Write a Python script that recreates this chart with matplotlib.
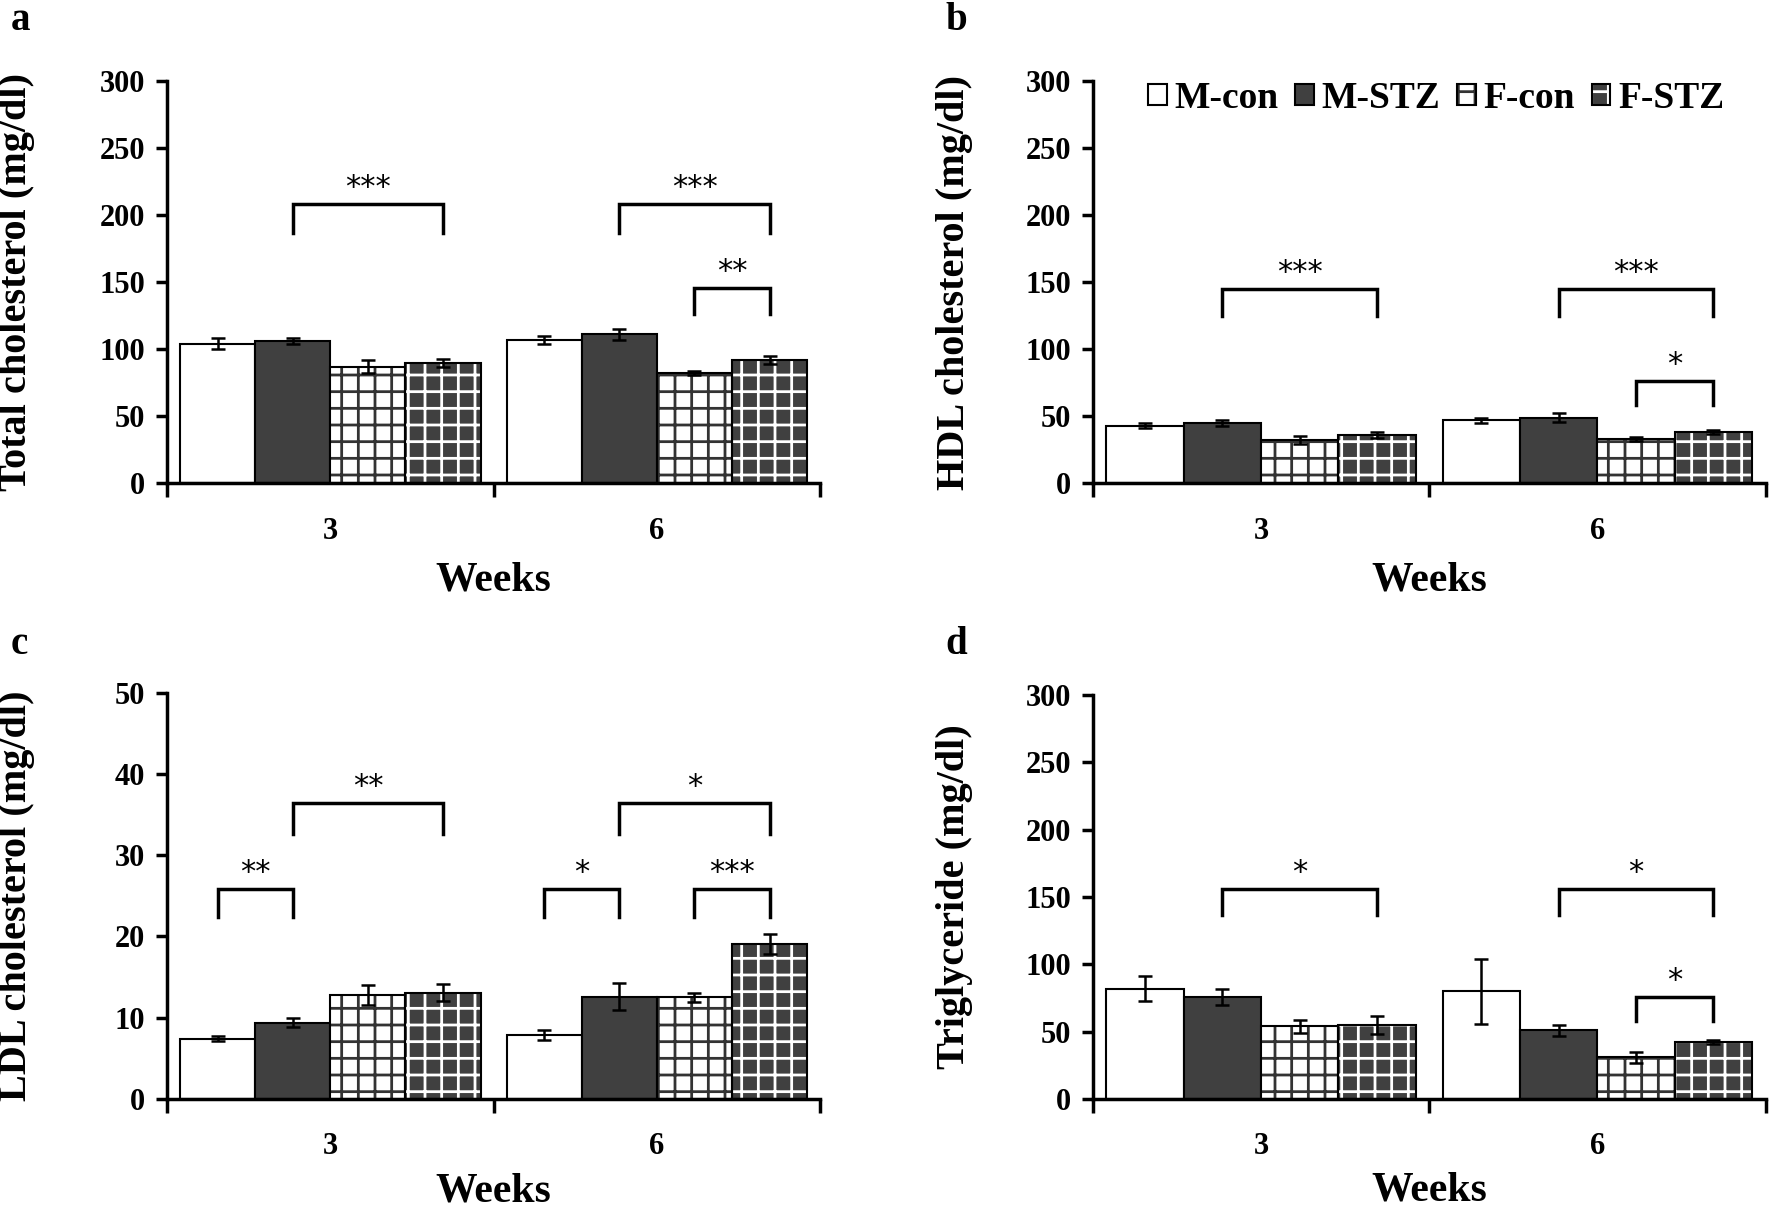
import matplotlib
matplotlib.use("Agg")
import matplotlib.pyplot as plt
from matplotlib.patches import Patch
from matplotlib.legend_handler import HandlerTuple

plt.rcParams["font.family"] = ["Liberation Serif", "DejaVu Serif"]
plt.rcParams["font.weight"] = "bold"
plt.rcParams["hatch.linewidth"] = 2.0

groups = ["M-con", "M-STZ", "F-con", "F-STZ"]
weeks = ["3", "6"]

# means / errors per group, one value per week (3, 6)
tc_mean = [[104, 107], [106, 111], [87, 82], [90, 92]]
tc_err = [[4, 3], [2, 4], [5, 1.5], [3, 3]]
hdl_mean = [[43, 47], [45, 49], [32, 33], [36, 38]]
hdl_err = [[2, 2], [2, 3], [3, 1.5], [2, 1.5]]
ldl_mean = [[7.4, 7.9], [9.4, 12.6], [12.8, 12.5], [13.1, 19.1]]
ldl_err = [[0.3, 0.6], [0.6, 1.7], [1.2, 0.6], [1.0, 1.2]]
tg_mean = [[82, 80], [76, 51], [54, 31], [55, 42]]
tg_err = [[9, 24], [6, 4], [5, 4], [7, 1.5]]

# significance brackets: (week index, group a, group b, y level, leg bottom, label)
tc_sig = [(0, 1, 3, 208, 187, "***"), (1, 1, 3, 208, 187, "***"),
          (1, 2, 3, 146, 126, "**")]
hdl_sig = [(0, 1, 3, 145, 125, "***"), (1, 1, 3, 145, 125, "***"),
           (1, 2, 3, 76, 58, "*")]
ldl_sig = [(0, 0, 1, 25.8, 22.4, "**"), (0, 1, 3, 36.4, 32.6, "**"),
           (1, 0, 1, 25.8, 22.4, "*"), (1, 2, 3, 25.8, 22.4, "***"),
           (1, 1, 3, 36.4, 32.6, "*")]
tg_sig = [(0, 1, 3, 156, 137, "*"), (1, 1, 3, 156, 137, "*"),
          (1, 2, 3, 76, 58, "*")]

DARK = "#404040"
BAR_W = 0.23


def bar_x(week, g):
    return week + 1 + (g - 1.5) * BAR_W


def draw_panel(ax, means, errs, sigs, ymax, ystep, ylabel, ylab_x, xlab_y):
    for g in range(4):
        xs = [bar_x(w, g) for w in range(len(weeks))]
        if g == 0:
            ax.bar(xs, means[g], BAR_W, color="white", edgecolor="black", lw=1.5, zorder=2)
        elif g == 1:
            ax.bar(xs, means[g], BAR_W, color=DARK, edgecolor="black", lw=1.5, zorder=2)
        else:
            face = "white" if g == 2 else DARK
            hcol = "#333333" if g == 2 else "white"
            ax.bar(xs, means[g], BAR_W, color=face, edgecolor=hcol, hatch="+", lw=0, zorder=2)
            ax.bar(xs, means[g], BAR_W, fill=False, edgecolor="black", lw=1.5, zorder=3)
        ax.errorbar(xs, means[g], yerr=errs[g], fmt="none", ecolor="black",
                    elinewidth=1.8, capsize=5, capthick=1.8, zorder=4)

    for w, a, b, y, y0, lab in sigs:
        xa, xb = bar_x(w, a), bar_x(w, b)
        ax.plot([xa, xa, xb, xb], [y0, y, y, y0], color="black", lw=2.5,
                solid_joinstyle="miter", zorder=5, clip_on=False)
        ax.text((xa + xb) / 2, y + ymax * 0.005, lab, ha="center", va="bottom",
                fontsize=22, fontweight="normal", family="DejaVu Sans")

    ax.set_xlim(0.5, 2.5)
    ax.set_ylim(0, ymax)
    ax.set_yticks(range(0, ymax + 1, ystep))
    ax.set_xticks([0.5, 1.5, 2.5])
    ax.set_xticklabels([])
    ax.set_xticks([1, 2], minor=True)
    ax.set_xticklabels(weeks, minor=True)
    ax.tick_params(axis="x", which="major", length=10, width=2.5, direction="out")
    ax.tick_params(axis="x", which="minor", length=0, pad=24, labelsize=22)
    ax.tick_params(axis="y", length=8, width=2.5, direction="out", labelsize=22, pad=8)
    for s in ["top", "right"]:
        ax.spines[s].set_visible(False)
    for s in ["left", "bottom"]:
        ax.spines[s].set_linewidth(2.5)
    ax.set_ylabel(ylabel, fontsize=29, fontweight="bold")
    ax.yaxis.set_label_coords(ylab_x, 0.5)
    ax.set_xlabel("Weeks", fontsize=30, fontweight="bold")
    ax.xaxis.set_label_coords(0.5, xlab_y)


fig = plt.figure(figsize=(17.7, 12.11), dpi=100)
ax_a = fig.add_axes([0.0944, 0.601, 0.369, 0.332])
ax_b = fig.add_axes([0.6175, 0.601, 0.38, 0.332])
ax_c = fig.add_axes([0.0944, 0.0925, 0.369, 0.3355])
ax_d = fig.add_axes([0.6175, 0.0925, 0.38, 0.3335])

draw_panel(ax_a, tc_mean, tc_err, tc_sig, 300, 50, "Total cholesterol (mg/dl)", -0.202, -0.195)
draw_panel(ax_b, hdl_mean, hdl_err, hdl_sig, 300, 50, "HDL cholesterol (mg/dl)", -0.178, -0.195)
draw_panel(ax_c, ldl_mean, ldl_err, ldl_sig, 50, 10, "LDL cholesterol (mg/dl)", -0.202, -0.18)
draw_panel(ax_d, tg_mean, tg_err, tg_sig, 300, 50, "Triglyceride (mg/dl)", -0.178, -0.18)

outline = dict(fill=False, edgecolor="black", lw=1.5)
handles = [
    Patch(facecolor="white", edgecolor="black", lw=1.5),
    Patch(facecolor=DARK, edgecolor="black", lw=1.5),
    (Patch(facecolor="white", edgecolor="#333333", hatch="+", lw=0), Patch(**outline)),
    (Patch(facecolor=DARK, edgecolor="white", hatch="+", lw=0), Patch(**outline)),
]
ax_b.legend(handles, groups, loc="upper center", bbox_to_anchor=(0.51, 1.085), ncol=4,
            frameon=False, handlelength=0.5, handleheight=0.5,
            handletextpad=0.2, columnspacing=0.45, prop={"weight": "bold", "size": 27},
            handler_map={tuple: HandlerTuple(ndivide=1, pad=0)})

for lab, x, y in [("a", 0.006, 0.998), ("b", 0.534, 0.998), ("c", 0.006, 0.483), ("d", 0.534, 0.483)]:
    fig.text(x, y, lab, fontsize=28, fontweight="bold", va="top")

fig.savefig("out.png", dpi=100)
